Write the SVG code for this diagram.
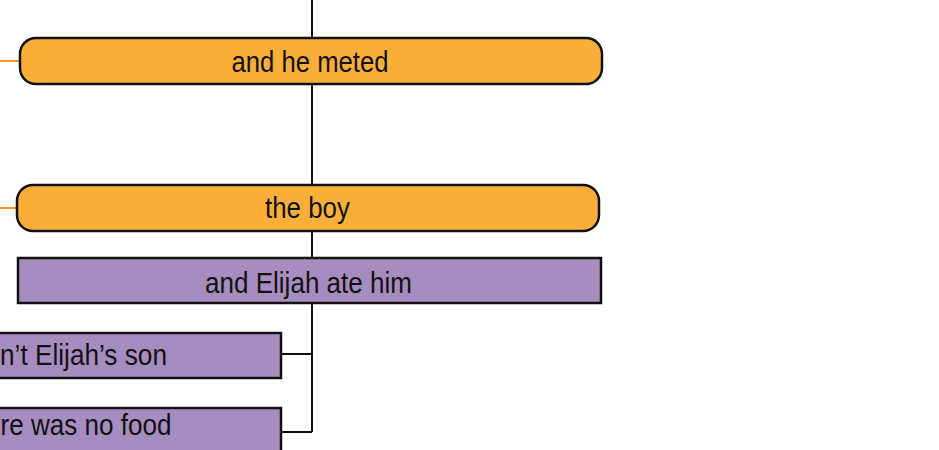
<svg xmlns="http://www.w3.org/2000/svg" width="939" height="450" viewBox="0 0 939 450">
<style>
.pill{fill:#FAAF3B;stroke:#111;stroke-width:2.5}
.box{fill:#A68DC0;stroke:#111;stroke-width:2.5}
.lbl{font-family:"Liberation Sans",Arial,sans-serif;font-size:30px;fill:#111}
.c{text-anchor:middle}
.ln{stroke:#111;stroke-width:2;fill:none}
.or{stroke:#F7941D;stroke-width:2;fill:none}
</style>
<rect width="939" height="450" fill="#fff"/>
<g id="connectors">
<path class="ln" d="M312,0 V432 M281,354 H312 M281,432 H312"/>
<path class="or" d="M0,61 H20 M0,208 H17"/>
</g>
<g id="node-meted">
<rect class="pill" x="20" y="38" width="582" height="46" rx="16" ry="16"/>
<text class="lbl c" x="310" y="71.5" textLength="157" lengthAdjust="spacingAndGlyphs">and he meted</text>
</g>
<g id="node-boy">
<rect class="pill" x="17" y="185" width="582" height="46" rx="16" ry="16"/>
<text class="lbl c" x="307.5" y="218" textLength="85" lengthAdjust="spacingAndGlyphs">the boy</text>
</g>
<g id="node-ate">
<rect class="box" x="18" y="258" width="583" height="45"/>
<text class="lbl c" x="308.5" y="292.5" textLength="207" lengthAdjust="spacingAndGlyphs">and Elijah ate him</text>
</g>
<g id="node-son">
<rect class="box" x="-20" y="333" width="301" height="45"/>
<text class="lbl" x="0" y="365" textLength="167" lengthAdjust="spacingAndGlyphs">n’t Elijah’s son</text>
</g>
<g id="node-food">
<rect class="box" x="-20" y="408" width="301" height="60"/>
<text class="lbl" x="0.5" y="435" textLength="171" lengthAdjust="spacingAndGlyphs">re was no food</text>
</g>
</svg>
